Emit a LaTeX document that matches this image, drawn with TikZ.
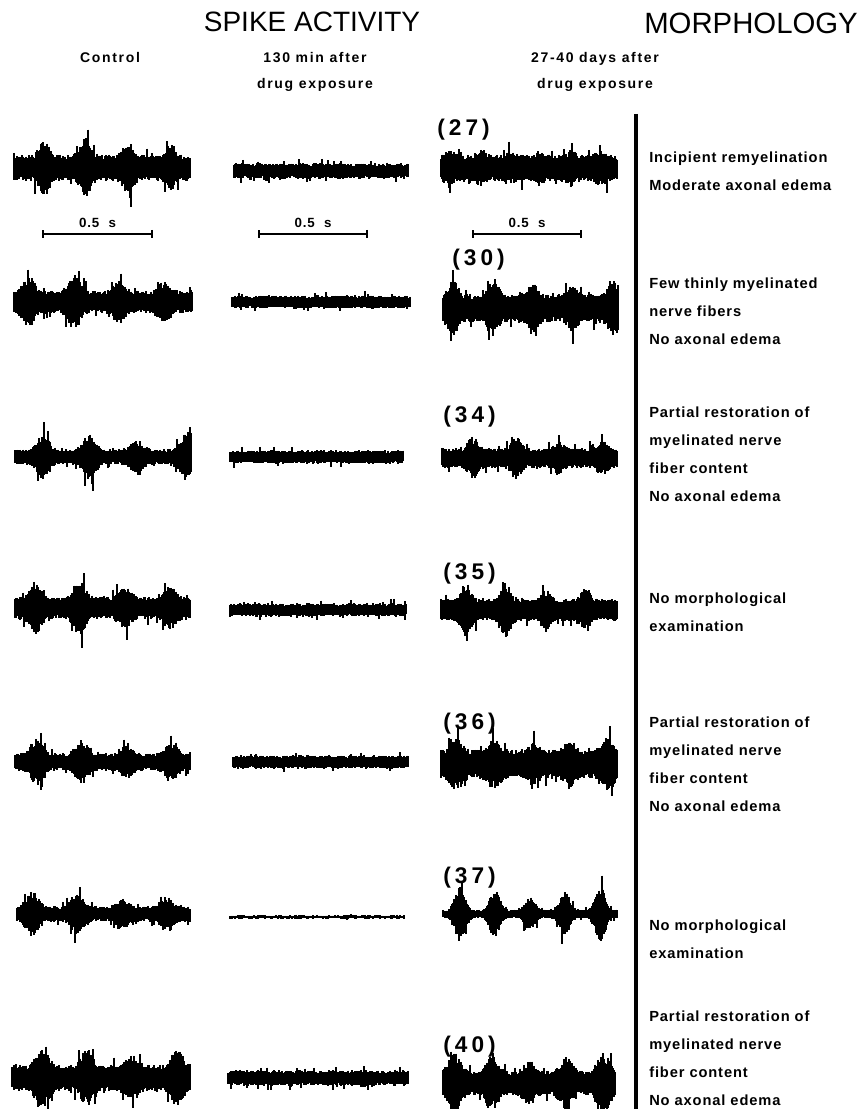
\documentclass[tikz,border=0pt]{standalone}
\usepackage{fontspec}
\setmainfont{Liberation Sans}
\newfontfamily\labfont[LetterSpace=6]{Liberation Sans}
\newfontfamily\headfont[LetterSpace=12]{Liberation Sans}
\newfontfamily\numfont[LetterSpace=18]{Liberation Sans}
\usetikzlibrary{arrows.meta,positioning}

% one recorded trace: x0, y, length, base, burst, period, phase, sharpness, seed
\newcommand{\spiketrace}[9]{%
  \pgfmathsetseed{#9}
  \foreach \t in {0,...,#3}{
    \pgfmathsetmacro{\cyc}{(\t-#7)/#6}
    \pgfmathsetmacro{\shp}{0.501+0.499*cos(360*\cyc)}
    \pgfmathsetmacro{\bk}{0.75+0.25*sin(97*floor(\cyc+0.5)+#9)}
    \pgfmathsetmacro{\env}{#4+#5*\bk*pow(\shp,#8)}
    \pgfmathsetmacro{\topamp}{\env*(0.7+0.4*rnd)+(rnd>0.93)*\env*0.8*rnd}
    \pgfmathsetmacro{\botamp}{\env*(0.7+0.4*rnd)+(rnd>0.93)*\env*0.8*rnd}
    \draw[spike] (#1+\t,#2-\topamp) -- (#1+\t,#2+\botamp);
  }}

\tikzset{
  spike/.style={line width=0.95pt},
  header/.style={font=\fontsize{21}{25}\selectfont, inner sep=0pt},
  collabel/.style={font=\headfont\bfseries\fontsize{10.5}{19.5}\selectfont, align=center, anchor=north, inner sep=0pt},
  morph/.style={font=\labfont\bfseries\fontsize{11}{21}\selectfont, align=left, anchor=north west, inner sep=0pt},
  rowlabel/.style={font=\numfont\bfseries\fontsize{17}{20}\selectfont, anchor=west, inner sep=0pt},
  scalebar/.style={line width=1.5pt, {Bar[width=6pt]}-{Bar[width=6pt]}},
  barlabel/.style={font=\labfont\bfseries\fontsize{10}{11}\selectfont, inner sep=0pt, above=4pt}
}

\begin{document}
\begin{tikzpicture}[x=0.75pt,y=-0.75pt]
\useasboundingbox (0,0) rectangle (863,1109);

% headings
\node[header] (spiketitle) at (312,22) {SPIKE ACTIVITY};
\node[header, font=\fontsize{22}{26}\selectfont] (morphtitle) at (751,23) {MORPHOLOGY};
\node[collabel] (control) at (110,52) {Control};
\node[collabel] (acute) at (315,52) {130 min after\\drug exposure};
\node[collabel] (late) at (595,52) {27-40 days after\\drug exposure};

% divider
\draw[line width=2.3pt] (636,114) -- (636,1109);

% scale bars
\coordinate (barA) at (42,234);  \coordinate (barB) at (153,234);
\coordinate (barC) at (258,234); \coordinate (barD) at (368,234);
\coordinate (barE) at (472,234); \coordinate (barF) at (582,234);
\draw[scalebar] (barA) -- node[barlabel] (sbA) {0.5\hspace{7pt}s} (barB);
\draw[scalebar] (barC) -- node[barlabel] (sbB) {0.5\hspace{7pt}s} (barD);
\draw[scalebar] (barE) -- node[barlabel] (sbC) {0.5\hspace{7pt}s} (barF);

% row 27
\spiketrace{14}{168}{176}{12}{18}{42}{30}{4}{11}
\spiketrace{234}{171}{174}{7}{0}{50}{0}{1}{12}
\spiketrace{441}{168}{176}{12}{5}{30}{10}{2}{13}
\node[rowlabel] (r27) at (437,130) {(27)};
\node[morph] (m27) at (649,152) {Incipient remyelination\\Moderate axonal edema};

% row 30
\spiketrace{14}{302}{178}{10}{16}{45}{15}{3}{21}
\spiketrace{232}{302}{178}{6}{0}{50}{0}{1}{22}
\spiketrace{443}{308}{175}{13}{16}{40}{10}{4}{23}
\node[rowlabel] (r30) at (452,260) {(30)};
\node[morph] (m30) at (649,278) {Few thinly myelinated\\nerve fibers\\No axonal edema};

% row 34
\spiketrace{15}{457}{168}{7}{15}{47}{28}{3}{31}
\spiketrace{184}{456}{7}{22}{0}{50}{0}{1}{34}
\spiketrace{230}{457}{173}{6}{0}{50}{0}{1}{32}
\spiketrace{442}{458}{175}{9}{12}{43}{31}{4}{33}
\node[rowlabel] (r34) at (443,417) {(34)};
\node[morph] (m34) at (649,407) {Partial restoration of\\myelinated nerve\\fiber content\\No axonal edema};

% row 35
\spiketrace{15}{608}{175}{10}{16}{45}{20}{3}{41}
\spiketrace{230}{610}{176}{6}{0}{50}{0}{1}{42}
\spiketrace{441}{610}{176}{10}{16}{40}{25}{4}{43}
\node[rowlabel] (r35) at (443,574) {(35)};
\node[morph] (m35) at (649,593) {No morphological\\examination};

% row 36
\spiketrace{15}{762}{175}{8}{14}{45}{22}{3}{51}
\spiketrace{233}{762}{175}{6}{0}{50}{0}{1}{52}
\spiketrace{441}{764}{176}{13}{12}{38}{15}{2}{53}
\node[rowlabel] (r36) at (443,724) {(36)};
\node[morph] (m36) at (649,717) {Partial restoration of\\myelinated nerve\\fiber content\\No axonal edema};

% row 37
\spiketrace{17}{914}{173}{7}{14}{45}{15}{3}{61}
\spiketrace{230}{917}{174}{1.5}{0}{50}{0}{1}{62}
\spiketrace{443}{914}{174}{4}{22}{35}{17}{2.5}{63}
\node[rowlabel] (r37) at (443,878) {(37)};
\node[morph] (m37) at (649,920) {No morphological\\examination};

% row 40
\spiketrace{12}{1078}{178}{12}{18}{45}{30}{3}{71}
\spiketrace{228}{1078}{180}{7}{0}{50}{0}{1}{72}
\spiketrace{443}{1083}{172}{11}{18}{37}{12}{2}{73}
\node[rowlabel] (r40) at (443,1047) {(40)};
\node[morph] (m40) at (649,1011) {Partial restoration of\\myelinated nerve\\fiber content\\No axonal edema};

\end{tikzpicture}
\end{document}
